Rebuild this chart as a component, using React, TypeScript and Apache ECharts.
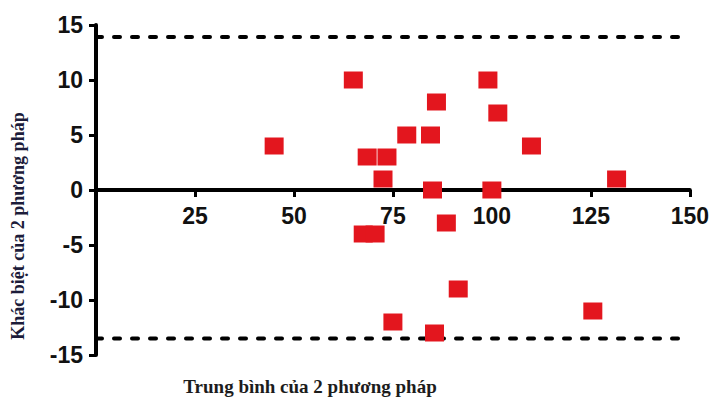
import React, { useEffect, useRef } from "react";
import * as echarts from "echarts";

const meanValues = [45, 65, 99, 86, 101.5, 78.5, 84.5, 110, 68.5, 73.5, 72.5, 131.5, 85, 100, 67.5, 70.5, 88.5, 91.5, 75, 85.5, 125.5];
const diffValues = [4, 10, 10, 8, 7, 5, 5, 4, 3, 3, 1, 1, 0, 0, -4, -4, -3, -9, -12, -13, -11];
const upperLimit = 13.9;
const lowerLimit = -13.5;
const xTicks = [0, 25, 50, 75, 100, 125, 150];
const yTicks = [-15, -10, -5, 0, 5, 10, 15];
const xTitle = "Trung bình của 2 phương pháp";
const yTitle = "Khác biệt của 2 phương pháp";

export default function App() {
  const ref = useRef<HTMLDivElement>(null);
  useEffect(() => {
    if (!ref.current) return;
    const chart = echarts.init(ref.current, undefined, { renderer: "svg" });
    const points = meanValues.map((m, i) => [m, diffValues[i]]);
    const xMin = xTicks[0];
    const xMax = xTicks[xTicks.length - 1];
    const yMin = yTicks[0];
    const yMax = yTicks[yTicks.length - 1];
    const gridTop = 25;
    const gridBottom = 42;
    const plotH = 397 - gridTop - gridBottom;
    const zeroOffset = -((0 - yMin) / (yMax - yMin)) * plotH;
    const labelFont = {
      fontFamily: "Liberation Sans, Arial, sans-serif",
      fontWeight: "bold" as const,
      fontSize: 23,
      color: "#111",
    };
    chart.setOption({
      animation: false,
      grid: { left: 96, right: 19, top: gridTop, bottom: gridBottom },
      xAxis: {
        type: "value",
        min: xMin,
        max: xMax,
        interval: 25,
        position: "bottom",
        offset: zeroOffset,
        axisLine: { onZero: false, lineStyle: { color: "#000", width: 4 } },
        axisTick: { show: true, length: 7, lineStyle: { color: "#000", width: 3 } },
        axisLabel: {
          ...labelFont,
          margin: 14,
          formatter: (v: number) => (v === 0 ? "" : String(v)),
        },
        splitLine: { show: false },
      },
      yAxis: {
        type: "value",
        min: yMin,
        max: yMax,
        interval: 5,
        axisLine: { show: true, onZero: false, lineStyle: { color: "#000", width: 4 } },
        axisTick: { show: true, length: 7, lineStyle: { color: "#000", width: 3 } },
        axisLabel: { ...labelFont, margin: 13 },
        splitLine: { show: false },
      },
      graphic: [
        {
          type: "text",
          x: 18,
          y: 226,
          rotation: Math.PI / 2,
          style: {
            text: yTitle,
            fill: "#1c1c3a",
            font: "bold 18px 'Liberation Serif', 'Times New Roman', serif",
            align: "center",
            verticalAlign: "middle",
          },
        },
        {
          type: "text",
          x: 310,
          y: 386,
          style: {
            text: xTitle,
            fill: "#1c1c1c",
            font: "bold 19px 'Liberation Serif', 'Times New Roman', serif",
            align: "center",
            verticalAlign: "middle",
          },
        },
      ],
      series: [
        {
          type: "line",
          data: [[xMin, upperLimit], [xMax, upperLimit]],
          symbol: "none",
          lineStyle: { color: "#000", width: 4, type: [6, 12], cap: "round" },
          silent: true,
          z: 1,
        },
        {
          type: "line",
          data: [[xMin, lowerLimit], [xMax, lowerLimit]],
          symbol: "none",
          lineStyle: { color: "#000", width: 4, type: [6, 12], cap: "round" },
          silent: true,
          z: 1,
        },
        {
          type: "scatter",
          data: points,
          symbol: "rect",
          symbolSize: [19, 17],
          itemStyle: { color: "#e3161e", opacity: 1 },
          z: 3,
        },
      ],
    });
    return () => chart.dispose();
  }, []);
  return <div ref={ref} style={{ width: 712, height: 397, position: "absolute", left: 0, top: 0 }} />;
}
